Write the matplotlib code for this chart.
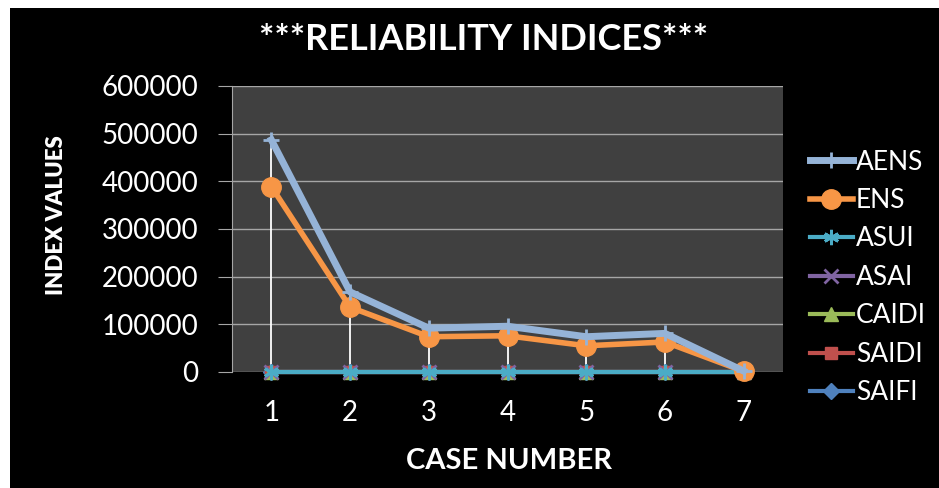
import matplotlib.pyplot as plt
from matplotlib.patches import Rectangle
import numpy as np

cases = [1, 2, 3, 4, 5, 6, 7]
aens = [487000, 168000, 92000, 96000, 74000, 81000, 2000]
ens = [389000, 136000, 74000, 76000, 55000, 63000, 1500]
asui = [0.0006, 0.0004, 0.0003, 0.0003, 0.0002, 0.0002, 0.0001]
asai = [0.9994, 0.9996, 0.9997, 0.9997, 0.9998, 0.9998, 0.9999]
caidi = [3.2, 2.8, 2.5, 2.5, 2.3, 2.4, 1.1]
saidi = [5.4, 3.6, 2.6, 2.7, 2.1, 2.2, 0.9]
saifi = [1.7, 1.3, 1.0, 1.1, 0.9, 0.9, 0.8]

series = [
    ("AENS", aens, "#95b3d7", "+", 12, 5),
    ("ENS", ens, "#f79646", "o", 14, 4),
    ("ASUI", asui, "#4bacc6", (6, 2, 0), 11, 3),
    ("ASAI", asai, "#8064a2", "x", 10, 3),
    ("CAIDI", caidi, "#9bbb59", "^", 10, 3),
    ("SAIDI", saidi, "#c0504d", "s", 9, 3),
    ("SAIFI", saifi, "#4f81bd", "D", 8, 3),
]

plt.rcParams['font.family'] = ['Lato', 'DejaVu Sans']

fig = plt.figure(figsize=(9.39, 4.88), dpi=100, facecolor="white")
fig.patches.append(Rectangle((10 / 939, 0), 1, 1 - 8 / 488, transform=fig.transFigure,
                             facecolor="black", edgecolor="none", zorder=0))

ax = fig.add_axes([232 / 939, 1 - 372 / 488, (783 - 232) / 939, (372 - 86) / 488])
ax.set_zorder(2)
ax.set_facecolor("#404040")

# high-low lines
top = np.maximum(aens, ens)
ax.vlines(cases, 0, top, colors="white", linewidth=1.3, zorder=2)

for name, vals, col, mk, ms, lw in reversed(series):
    ax.plot(cases, vals, color=col, marker=mk, markersize=ms, linewidth=lw,
            markeredgecolor=col, markeredgewidth=2 if mk in ("+", "x", (6, 2, 0)) else 1,
            label=name, zorder=3, clip_on=False)

ax.set_xlim(0.5, 7.5)
ax.set_ylim(0, 600000)
ax.set_yticks(range(0, 600001, 100000))
ax.set_xticks(cases)
ax.yaxis.grid(True, color="#a6a6a6", linewidth=1)
ax.set_axisbelow(True)
for s in ["top", "right"]:
    ax.spines[s].set_visible(False)
ax.spines["bottom"].set_visible(False)
ax.spines["left"].set_color("#a6a6a6")
ax.tick_params(axis="y", colors="#a6a6a6", length=10, labelcolor="white", labelsize=20, pad=14)
ax.tick_params(axis="x", length=0, labelcolor="white", labelsize=20, pad=20)

fig.text(484 / 939, 1 - 40 / 488, "***RELIABILITY INDICES***", color="white",
         fontsize=26, fontweight="bold", ha="center", va="center")
fig.text(509 / 939, 1 - 461 / 488, "CASE NUMBER", color="white",
         fontsize=21, fontweight="bold", ha="center", va="center")
fig.text(57 / 939, 1 - 215 / 488, "INDEX VALUES", color="white", rotation=90,
         fontsize=16, fontweight="heavy", ha="center", va="center")

h, l = ax.get_legend_handles_labels()
leg = fig.legend(h[::-1], l[::-1], loc="upper left", bbox_to_anchor=(799 / 939, 1 - 139 / 488),
                 frameon=False, labelcolor="white", fontsize=19, handlelength=1.65,
                 handletextpad=0.1, labelspacing=0.51, borderaxespad=0)

fig.savefig("out.png", dpi=100, facecolor="white")
